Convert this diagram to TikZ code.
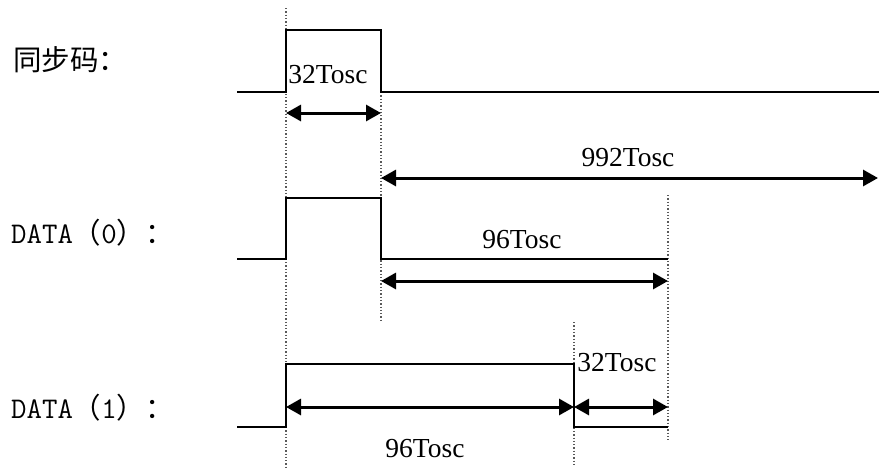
\documentclass[tikz,border=0pt]{standalone}
\usepackage{fontspec}
\setmainfont{Liberation Serif}
\newfontfamily\cjk{Noto Sans CJK SC}
\usetikzlibrary{arrows.meta}
\begin{document}
\begin{tikzpicture}[x=1pt,y=-1pt,
  sig/.style={line width=2pt, line join=miter},
  dim/.style={line width=3pt, {Triangle[length=15pt,width=16pt]}-{Triangle[length=15pt,width=16pt]}},
  guide/.style={line width=1.3pt, dotted, black!65},
  lbl/.style={inner sep=0pt, font=\fontsize{27.5}{32}\selectfont},
  side/.style={inner sep=0pt, anchor=west, font=\fontsize{28.5}{32}\selectfont}]
\useasboundingbox (0,0) rectangle (879,467);
% guides
\coordinate (g1t) at (286,8);   \coordinate (g1b) at (286,467);
\coordinate (g2t) at (381,92);  \coordinate (g2b) at (381,320);
\coordinate (g3t) at (668,195); \coordinate (g3b) at (668,440);
\coordinate (g4t) at (574,322); \coordinate (g4b) at (574,467);
\draw[guide] (g1t) -- (g1b);
\draw[guide] (g2t) -- (g2b);
\draw[guide] (g3t) -- (g3b);
\draw[guide] (g4t) -- (g4b);
% sync waveform
\draw[sig] (237,92) -- (286,92) -- (286,30) -- (381,30) -- (381,92) -- (879,92);
% DATA0 waveform
\draw[sig] (237,259) -- (286,259) -- (286,198) -- (381,198) -- (381,259) -- (668,259);
% DATA1 waveform
\draw[sig] (237,427) -- (286,427) -- (286,364) -- (574,364) -- (574,427) -- (668,427);
% dimension arrows
\coordinate (a1l) at (286,113); \coordinate (a1r) at (381,113);
\coordinate (a2l) at (381,178); \coordinate (a2r) at (878,178);
\coordinate (a3l) at (381,281); \coordinate (a3r) at (668,281);
\coordinate (a4l) at (286,407); \coordinate (a4m) at (574,407); \coordinate (a4r) at (668,407);
\draw[dim] (a1l) -- (a1r);
\draw[dim] (a2l) -- (a2r);
\draw[dim] (a3l) -- (a3r);
\draw[dim] (a4l) -- (a4m);
\draw[dim] (a4m) -- (a4r);
% labels
\node[lbl] (t1) at (328,75) {32Tosc};
\node[lbl] (t2) at (628,158) {992Tosc};
\node[lbl] (t3) at (522,240) {96Tosc};
\node[lbl] (t4) at (617,363) {32Tosc};
\node[lbl] (t5) at (425,449) {96Tosc};
\node[side] (l1) at (13,60) {\cjk 同步码：};
\node[side] (l2) at (11,233) {{\ttfamily\fontsize{30}{32}\selectfont DATA}{\cjk （}{\ttfamily\fontsize{30}{32}\selectfont 0}{\cjk ）：}};
\node[side] (l3) at (11,408) {{\ttfamily\fontsize{30}{32}\selectfont DATA}{\cjk （}{\ttfamily\fontsize{30}{32}\selectfont 1}{\cjk ）：}};
\end{tikzpicture}
\end{document}
